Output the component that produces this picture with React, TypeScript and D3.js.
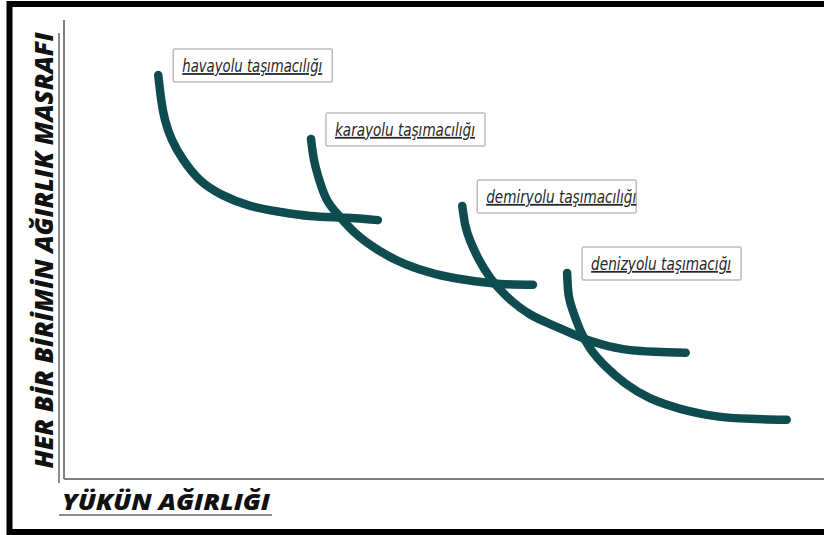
import React, { useRef, useEffect } from 'react';
import * as d3 from 'd3';

// Taşıma türleri ve eğrileri (x: yükün ağırlığı, y: birim ağırlık masrafı, 0-100 ölçeğinde)
const modes = ['havayolu taşımacılığı', 'karayolu taşımacılığı', 'demiryolu taşımacılığı', 'denizyolu taşımacığı'];

const havayolu: [number, number][] = [
  [12.4, 88.0], [12.8, 82.5], [13.3, 78.2], [14.2, 73.9], [15.7, 69.5], [17.9, 65.1],
  [20.8, 61.9], [24.5, 59.5], [28.4, 58.2], [32.4, 57.3], [37.0, 56.9], [41.3, 56.4],
];
const karayolu: [number, number][] = [
  [32.5, 74.1], [32.9, 69.5], [33.6, 65.1], [34.6, 60.8], [36.1, 57.5], [38.3, 53.6],
  [41.3, 49.9], [44.9, 46.8], [48.8, 44.7], [52.8, 43.4], [57.4, 42.5], [61.7, 42.3],
];
const demiryolu: [number, number][] = [
  [52.4, 59.5], [52.8, 55.3], [53.4, 52.1], [54.5, 48.1], [56.1, 43.8], [58.3, 39.7],
  [61.3, 35.9], [64.9, 33.1], [69.2, 30.1], [73.6, 28.3], [77.8, 27.7], [81.8, 27.5],
];
const denizyolu: [number, number][] = [
  [66.2, 44.9], [66.4, 40.1], [67.0, 36.4], [67.9, 32.5], [69.2, 28.5], [71.2, 24.6],
  [73.8, 20.9], [77.1, 17.6], [81.1, 15.3], [85.7, 13.7], [90.3, 13.1], [95.1, 12.9],
];

const curves = [havayolu, karayolu, demiryolu, denizyolu];

const yTitle = 'HER BİR BİRİMİN AĞIRLIK MASRAFI';
const xTitle = 'YÜKÜN AĞIRLIĞI';

const W = 824;
const H = 535;

const App = () => {
  const svgRef = useRef<SVGSVGElement>(null);

  useEffect(() => {
    const svg = d3.select(svgRef.current);
    svg.selectAll('*').remove();

    const x = d3.scaleLinear().domain([0, 100]).range([64, 824]);
    const y = d3.scaleLinear().domain([0, 100]).range([479, 20]);

    svg.append('rect').attr('width', W).attr('height', H).attr('fill', '#fff');

    // çerçeve
    svg.append('rect')
      .attr('x', 9.5).attr('y', 4)
      .attr('width', 900).attr('height', 528)
      .attr('fill', 'none')
      .attr('stroke', '#000')
      .attr('stroke-width', 6);

    // eksenler
    svg.append('line')
      .attr('x1', x(0)).attr('x2', x(0))
      .attr('y1', y(100)).attr('y2', y(0))
      .attr('stroke', '#808080').attr('stroke-width', 2);
    svg.append('line')
      .attr('x1', x(0)).attr('x2', x(100))
      .attr('y1', y(0)).attr('y2', y(0))
      .attr('stroke', '#808080').attr('stroke-width', 2);

    // eksen başlıkları
    svg.append('text')
      .attr('transform', `translate(53,${(33 + 468) / 2}) rotate(-90)`)
      .attr('text-anchor', 'middle')
      .attr('textLength', 436)
      .attr('lengthAdjust', 'spacingAndGlyphs')
      .style('font-family', '"Open Sans", sans-serif')
      .style('font-weight', 800)
      .style('font-style', 'italic')
      .style('font-size', '24px')
      .style('fill', '#111')
      .text(yTitle);
    svg.append('line')
      .attr('x1', 59).attr('x2', 59)
      .attr('y1', 33).attr('y2', 483)
      .attr('stroke', '#666').attr('stroke-width', 1.5);

    svg.append('text')
      .attr('x', 62).attr('y', 510)
      .attr('textLength', 208)
      .attr('lengthAdjust', 'spacingAndGlyphs')
      .style('font-family', '"Open Sans", sans-serif')
      .style('font-weight', 800)
      .style('font-style', 'italic')
      .style('font-size', '23px')
      .style('fill', '#111')
      .text(xTitle);
    svg.append('line')
      .attr('x1', 59).attr('x2', 272)
      .attr('y1', 515).attr('y2', 515)
      .attr('stroke', '#666').attr('stroke-width', 1.5);

    // eğriler
    const line = d3.line<[number, number]>()
      .x(d => x(d[0]))
      .y(d => y(d[1]))
      .curve(d3.curveNatural);

    svg.append('g')
      .selectAll('path')
      .data(curves)
      .join('path')
      .attr('d', d => line(d))
      .attr('fill', 'none')
      .attr('stroke', '#0e4c50')
      .attr('stroke-width', 8.5)
      .attr('stroke-linecap', 'round');

    // etiketler
    const labels = svg.append('g')
      .selectAll('g')
      .data(modes)
      .join('g')
      .attr('transform', (_, i) => `translate(${x(curves[i][0][0]) + 15},${y(curves[i][0][1]) - 26})`);

    labels.append('rect')
      .attr('width', 159).attr('height', 33)
      .attr('rx', 1.5)
      .attr('fill', '#fff')
      .attr('stroke', '#bdbdbd')
      .attr('stroke-width', 1.5);

    labels.append('text')
      .attr('x', 9).attr('y', 23)
      .attr('textLength', d => d.length > 21 ? 150 : 140)
      .attr('lengthAdjust', 'spacingAndGlyphs')
      .style('font-family', '"Liberation Sans Narrow", "DejaVu Sans Condensed", sans-serif')
      .style('font-style', 'italic')
      .style('font-size', '18px')
      .style('text-decoration', 'underline')
      .style('fill', '#262626')
      .text(d => d);
  }, []);

  return (
    <div style={{ position: 'absolute', left: 0, top: 0, width: W, height: H }}>
      <svg ref={svgRef} width={W} height={H} />
    </div>
  );
};

export default App;
